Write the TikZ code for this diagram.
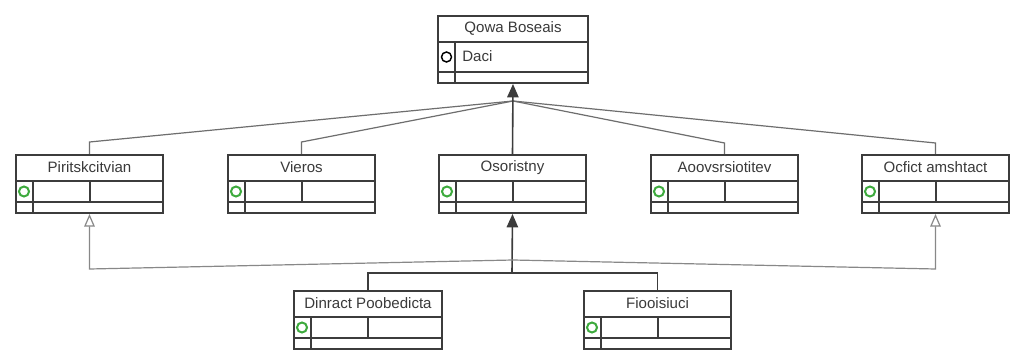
\documentclass[tikz,border=0pt]{standalone}
\usepackage{fontspec}
\setmainfont{Liberation Sans}
\usetikzlibrary{calc,arrows.meta}

\definecolor{boxline}{HTML}{3C3C3C}
\definecolor{txt}{HTML}{3A3A3A}
\definecolor{fanline}{HTML}{6E6E6E}
\definecolor{lightline}{HTML}{888888}
\definecolor{okgreen}{HTML}{3DAA3D}

\tikzset{
  classbox/.style={draw=boxline, line width=1.5pt, rectangle, inner sep=0pt, anchor=north west},
  divline/.style={draw=boxline, line width=1.5pt},
  titletext/.style={text=txt, font=\fontsize{11.3pt}{13pt}\selectfont, inner sep=0pt},
  attrtext/.style={text=txt, font=\fontsize{11.3pt}{13pt}\selectfont, inner sep=0pt, anchor=west},
  fan/.style={draw=fanline, line width=0.9pt},
  strongline/.style={draw=boxline, line width=1.2pt},
  realize/.style={draw=lightline, line width=0.9pt, -{Triangle[open, width=8pt, length=9.5pt]}},
  generalize/.style={strongline, -{Triangle[width=8.5pt, length=10pt]}},
  marker/.style={draw=okgreen, line width=1.5pt, circle, minimum size=7.5pt, inner sep=0pt},
}

% \classbox{name}{left}{top}{width}{attr row height}{title}
\newcommand{\classbox}[6]{%
  \node[classbox, minimum width=#4*0.75pt, minimum height=(37+#5)*0.75pt] (#1) at (#2,#3) {};
  \draw[divline] ($(#1.north west)+(0,27)$) -- ($(#1.north east)+(0,27)$);
  \draw[divline] ($(#1.north west)+(0,27+#5)$) -- ($(#1.north east)+(0,27+#5)$);
  \draw[divline] ($(#1.north west)+(18,27)$) -- ($(#1.south west)+(18,0)$);
  \node[titletext] (#1-title) at ($(#1.north)+(0,13.5)$) {#6};
}

\begin{document}
\begin{tikzpicture}[x=0.75pt, y=-0.75pt]
  \useasboundingbox[fill=white] (0,0) rectangle (1024,363);

  % base class at the top
  \classbox{top}{437}{15}{150}{30}{Qowa Boseais}
  \node[draw=black, line width=1.1pt, circle, minimum size=7.5pt, inner sep=0pt] (top-mark) at (446.5,57) {};
  \node[attrtext] (top-attr) at (462,56) {Daci};

  % middle row of classes
  \classbox{c1}{15}{154}{147}{21}{Piritskcitvian}
  \classbox{c2}{227}{154}{147}{21}{Vieros}
  \classbox{c3}{438}{154}{147}{21}{Osoristny}
  \classbox{c4}{650}{154}{147}{21}{Aoovsrsiotitev}
  \classbox{c5}{861}{154}{147}{21}{Ocfict amshtact}

  % bottom row of classes
  \classbox{b1}{293}{290}{148}{21}{Dinract Poobedicta}
  \classbox{b2}{583}{290}{147}{21}{Fiooisiuci}

  % operation column dividers and markers
  \foreach \n in {c1,c2,c3,c4,c5,b1,b2}{
    \draw[divline] ($(\n.north)+(0,27)$) -- ($(\n.north)+(0,48)$);
    \node[marker] (\n-mark) at ($(\n.north west)+(9,37.5)$) {};
  }

  % fan from the base class to the middle row
  \coordinate (hub) at (513,101);
  \draw[fan] (hub) -- ($(c1.north)+(0,-12)$) -- (c1.north);
  \draw[fan] (hub) -- ($(c2.north)+(0,-12)$) -- (c2.north);
  \draw[fan] (hub) -- ($(c4.north)+(0,-11)$) -- (c4.north);
  \draw[fan] (hub) -- ($(c5.north)+(0,-11)$) -- (c5.north);
  \draw[generalize] (c3.north) -- (top.south);

  % bottom row generalizes the middle class
  \coordinate (join) at (512,273);
  \draw[strongline] (b1.north) |- (join) -| (b2.north);
  \draw[generalize] (join) -- (c3.south);

  % realization links to the outer classes
  \coordinate (mid) at (513,260);
  \draw[realize] (mid) -- ($(c1.south)+(0,55)$) -- (c1.south);
  \draw[realize] (mid) -- ($(c5.south)+(0,55)$) -- (c5.south);
\end{tikzpicture}
\end{document}
